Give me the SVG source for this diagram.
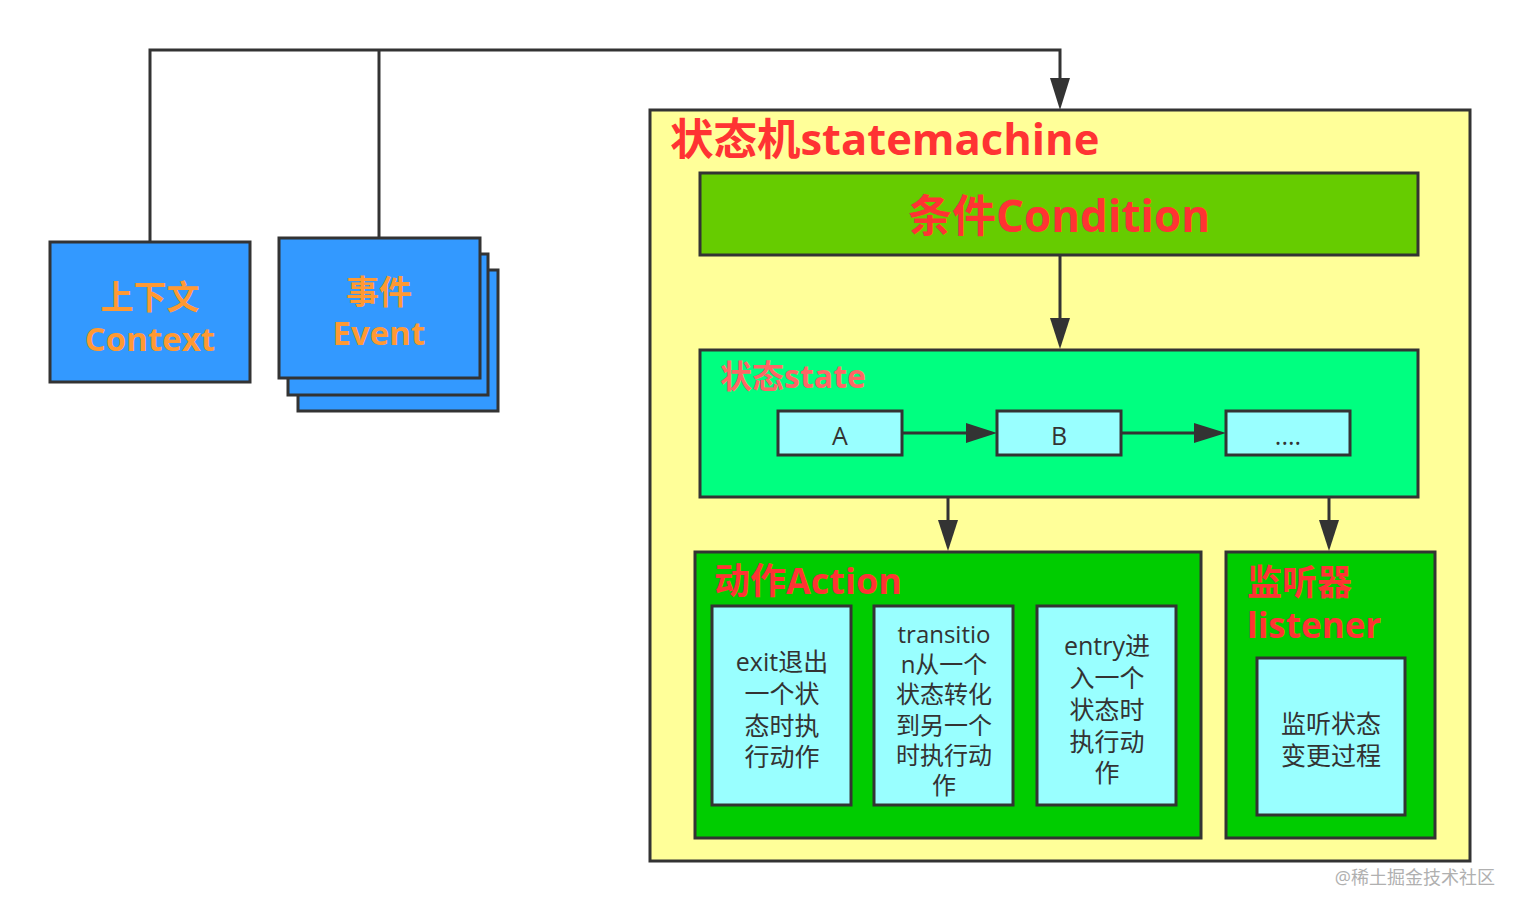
<svg xmlns="http://www.w3.org/2000/svg" width="1519" height="912" viewBox="0 0 1519 912">
<defs>
<style>
.b{stroke:#333333;stroke-width:3}
.blue{fill:#3399FF}
.cy{fill:#99FFFF}
.t{font-family:"Open Sans","Noto Sans CJK SC",sans-serif}
.or{fill:#FF9933;font-weight:bold;font-size:33px;text-anchor:middle}
.red{fill:#FF3333;font-weight:bold}
.dk{fill:#333333;font-size:25px;text-anchor:middle}
.dk24{fill:#333333;font-size:24px;text-anchor:middle}
.ln{fill:none;stroke:#333333;stroke-width:3}
.ah{fill:#333333}
</style>
</defs>
<rect width="1519" height="912" fill="#ffffff"/>
<g id="context">
<rect class="b blue" x="50" y="242" width="200" height="140"/>
<text class="t or" x="150" y="309">上下文</text>
<text class="t or" x="150" y="351">Context</text>
</g>
<g id="event">
<rect class="b blue" x="298" y="270" width="200" height="141"/>
<rect class="b blue" x="288" y="254" width="200" height="141"/>
<rect class="b blue" x="279" y="238" width="201" height="140"/>
<text class="t or" x="379" y="304">事件</text>
<text class="t or" x="379" y="345">Event</text>
</g>
<g id="statemachine">
<rect class="b" fill="#FFFF99" x="650" y="110" width="820" height="751"/>
<text class="t red" x="670" y="155" font-size="43.5">状态机statemachine</text>
</g>
<g id="condition">
<rect class="b" fill="#66CC00" x="700" y="173" width="718" height="82"/>
<text class="t red" x="1059" y="232" font-size="44" text-anchor="middle">条件Condition</text>
</g>
<g id="state">
<rect class="b" fill="#00FF80" x="700" y="350" width="718" height="147"/>
<text class="t" x="720" y="388" font-size="32" font-weight="bold" fill="#FF6666">状态state</text>
</g>
<g id="stateA">
<rect class="b cy" x="778" y="411" width="124" height="44"/>
<text class="t dk" x="840" y="445">A</text>
</g>
<g id="stateB">
<rect class="b cy" x="997" y="411" width="124" height="44"/>
<text class="t dk" x="1059" y="445">B</text>
</g>
<g id="stateMore">
<rect class="b cy" x="1226" y="411" width="124" height="44"/>
<text class="t dk" x="1288" y="445">....</text>
</g>
<g id="action">
<rect class="b" fill="#00CC00" x="695" y="552" width="506" height="286"/>
<text class="t red" x="714" y="594" font-size="36">动作Action</text>
</g>
<g id="exit">
<rect class="b cy" x="712" y="606" width="139" height="199"/>
<text class="t dk"><tspan x="782" y="671">exit退出</tspan><tspan x="782" y="703">一个状</tspan><tspan x="782" y="735">态时执</tspan><tspan x="782" y="766">行动作</tspan></text>
</g>
<g id="transition">
<rect class="b cy" x="874" y="606" width="139" height="199"/>
<text class="t dk24"><tspan x="944" y="643">transitio</tspan><tspan x="944" y="673">n从一个</tspan><tspan x="944" y="703">状态转化</tspan><tspan x="944" y="734">到另一个</tspan><tspan x="944" y="764">时执行动</tspan><tspan x="944" y="794">作</tspan></text>
</g>
<g id="entry">
<rect class="b cy" x="1037" y="606" width="139" height="199"/>
<text class="t dk"><tspan x="1107" y="655">entry进</tspan><tspan x="1107" y="687">入一个</tspan><tspan x="1107" y="719">状态时</tspan><tspan x="1107" y="751">执行动</tspan><tspan x="1107" y="782">作</tspan></text>
</g>
<g id="listener">
<rect class="b" fill="#00CC00" x="1226" y="552" width="209" height="286"/>
<text class="t red" font-size="35"><tspan x="1247" y="595">监听器</tspan><tspan x="1247" y="638">listener</tspan></text>
</g>
<g id="listenerInner">
<rect class="b cy" x="1257" y="658" width="148" height="157"/>
<text class="t dk"><tspan x="1331" y="733">监听状态</tspan><tspan x="1331" y="765">变更过程</tspan></text>
</g>
<g id="connectors">
<path class="ln" d="M150,242 V50 H1060 V80"/>
<path class="ln" d="M379,238 V50"/>
<path class="ah" d="M1050,78 L1070,78 L1060,110 Z"/>
<path class="ln" d="M1060,255 V320"/>
<path class="ah" d="M1050,318 L1070,318 L1060,349 Z"/>
<path class="ln" d="M903,433 H968"/>
<path class="ah" d="M966,423 L997,433 L966,443 Z"/>
<path class="ln" d="M1122,433 H1196"/>
<path class="ah" d="M1194,423 L1226,433 L1194,443 Z"/>
<path class="ln" d="M948,497 V522"/>
<path class="ah" d="M938,520 L958,520 L948,551 Z"/>
<path class="ln" d="M1329,497 V522"/>
<path class="ah" d="M1319,520 L1339,520 L1329,551 Z"/>
</g>
<text class="t" x="1495" y="884" font-size="18" fill="#b0b0b0" text-anchor="end">@稀土掘金技术社区</text>
</svg>
